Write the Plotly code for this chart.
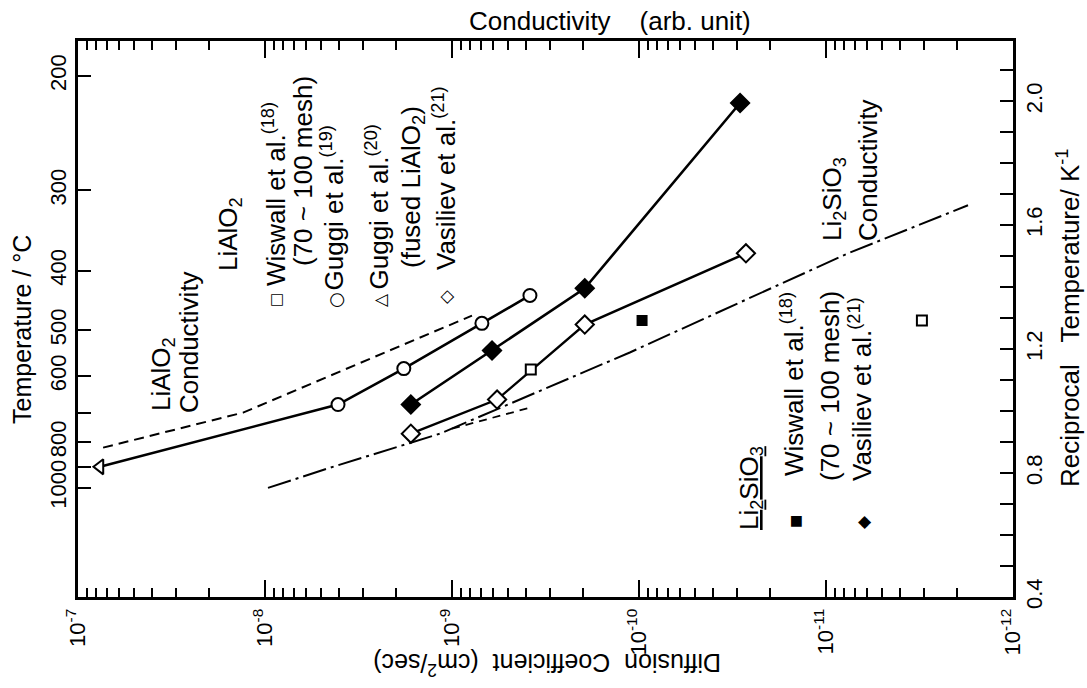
import plotly.graph_objects as go

# ---------------- data ----------------
# LiAlO2, Guggi et al.(19)  (open circles)
guggi_D = [4.07e-9, 1.81e-9, 6.92e-10, 3.83e-10]
guggi_r = [1.021, 1.137, 1.283, 1.373]
# LiAlO2 fused, Guggi et al.(20)  (open triangle)
guggi_fused_D = [7.63e-8]
guggi_fused_r = [0.820]
# LiAlO2, Vasiliev et al.(21)  (open diamonds)
vas_lialo2_D = [1.66e-9, 5.74e-10, 1.95e-10, 2.68e-11]
vas_lialo2_r = [0.927, 1.037, 1.279, 1.509]
# Li2SiO3, Vasiliev et al.(21)  (filled diamonds)
vas_li2sio3_D = [1.66e-9, 6.11e-10, 1.95e-10, 2.88e-11]
vas_li2sio3_r = [1.021, 1.195, 1.396, 1.994]
# LiAlO2, Wiswall et al.(18)  (open squares)
wis_lialo2_D = [3.79e-10, 3.07e-12]
wis_lialo2_r = [1.134, 1.292]
# Li2SiO3, Wiswall et al.(18)  (filled square)
wis_li2sio3_D = [9.63e-11]
wis_li2sio3_r = [1.292]
# LiAlO2 conductivity (dashed)
cond_lialo2_D = [7.34e-8, 1.31e-8, 7.82e-10]
cond_lialo2_r = [0.882, 0.995, 1.308]
# Li2SiO3 conductivity (dash-dot)
cond_li2sio3_D = [9.64e-9, 4.49e-9, 1.16e-9, 3.83e-10, 1.12e-10, 7.62e-12, 1.74e-12]
cond_li2sio3_r = [0.752, 0.817, 0.927, 1.050, 1.189, 1.509, 1.664]
# short dashed extrapolation
extrap_D = [1.0e-9, 3.83e-10]
extrap_r = [0.943, 1.011]

# ticks
d_decades = [1e-7, 1e-8, 1e-9, 1e-10, 1e-11, 1e-12]
d_labels = ["10<sup>-7</sup>", "10<sup>-8</sup>", "10<sup>-9</sup>",
            "10<sup>-10</sup>", "10<sup>-11</sup>", "10<sup>-12</sup>"]
recip_ticks = [0.4, 0.5, 0.6, 0.7, 0.8, 0.9, 1.0, 1.1, 1.2, 1.3, 1.4, 1.5,
               1.6, 1.7, 1.8, 1.9, 2.0, 2.1]
recip_labels = ["0.4", "", "", "", "0.8", "", "", "", "1.2", "", "", "",
                "1.6", "", "", "", "2.0", ""]
temp_C = [200, 300, 400, 500, 600, 700, 800, 900, 1000]
temp_labels = ["200", "300", "400", "500", "600", "", "800", "", "1000"]

# ---------------- figure ----------------
FONT = "Liberation Sans, Arial, sans-serif"
SYMFONT = "DejaVu Sans, sans-serif"
W, H = 1087, 688
L, R, T, B = 78, 74, 41, 91
PW, PH = W - L - R, H - T - B

minor_vals = [k * 10.0 ** e for e in range(-12, -7) for k in range(2, 10)]
temp_recip = [1000.0 / (c + 273.15) for c in temp_C]

fig = go.Figure()

line_traces = [
    (guggi_fused_D + guggi_D, guggi_fused_r + guggi_r, "solid", 2.6),
    (vas_lialo2_D, vas_lialo2_r, "solid", 2.4),
    (vas_li2sio3_D, vas_li2sio3_r, "solid", 2.6),
    (cond_lialo2_D, cond_lialo2_r, "10px,6px", 2.0),
    (cond_li2sio3_D, cond_li2sio3_r, "24px,5px,3px,5px", 2.0),
    (extrap_D, extrap_r, "8px,6px", 1.8),
]
for xs, ys, dash, w in line_traces:
    fig.add_trace(go.Scatter(x=xs, y=ys, mode="lines",
                             line=dict(color="black", width=w, dash=dash),
                             showlegend=False, hoverinfo="skip"))

marker_traces = [
    (guggi_D, guggi_r, "circle", 13, "white"),
    (guggi_fused_D, guggi_fused_r, "triangle-left", 13, "white"),
    (vas_lialo2_D, vas_lialo2_r, "diamond", 14, "white"),
    (vas_li2sio3_D, vas_li2sio3_r, "diamond", 14, "black"),
    (wis_lialo2_D, wis_lialo2_r, "square", 10, "white"),
    (wis_li2sio3_D, wis_li2sio3_r, "square", 9, "black"),
]
for xs, ys, sym, size, fill in marker_traces:
    fig.add_trace(go.Scatter(x=xs, y=ys, mode="markers",
                             marker=dict(symbol=sym, size=size, color=fill,
                                         line=dict(color="black", width=2)),
                             showlegend=False, hoverinfo="skip"))

# invisible helper trace on its own (x2, y2) pair: it carries the
# temperature axis (left) and the bottom tick marks
fig.add_trace(go.Scatter(x=[guggi_fused_D[0]], y=[temp_recip[0]],
                         xaxis="x2", yaxis="y2",
                         mode="markers", marker=dict(opacity=0, size=1),
                         showlegend=False, hoverinfo="skip"))


def ann(text, xp, yp, angle=-90, size=26, xanchor="center", yanchor="bottom",
        family=FONT):
    return dict(text=text, x=(xp - L) / PW, y=(H - B - yp) / PH,
                xref="paper", yref="paper", showarrow=False, textangle=angle,
                xanchor=xanchor, yanchor=yanchor,
                font=dict(size=size, family=family, color="black"))


NB = "\u00a0"
annotations = [
    # axis titles
    ann("Conductivity" + NB * 4 + "(arb. unit)", 610, 21, angle=0, size=26, yanchor="middle"),
    ann("Temperature / °C", 22, 330, size=25, yanchor="middle"),
    ann("Reciprocal" + NB * 3 + "Temperature/ K<sup>-1</sup>", 1068, 318, size=26, yanchor="middle"),
    ann("Diffusion" + NB * 2 + "Coefficient" + NB * 2 + "(cm<sup>2</sup>/sec)", 547, 664,
        angle=180, size=25, yanchor="middle"),
    # conductivity labels
    ann("LiAlO<sub>2</sub>", 162, 413),
    ann("Conductivity", 189, 415),
    ann("Li<sub>2</sub>SiO<sub>3</sub>", 834, 243),
    ann("Conductivity", 868, 243),
    # LiAlO2 legend
    ann("LiAlO<sub>2</sub>", 229, 273),
    ann("Wiswall et al.<sup>(18)</sup>", 274, 288),
    ann("(70 ~ 100 mesh)", 303, 268),
    ann("Guggi et al.<sup>(19)</sup>", 333, 293),
    ann("Guggi et al.<sup>(20)</sup>", 378, 292),
    ann("(fused LiAlO<sub>2</sub>)", 412, 270),
    ann("Vasiliev et al.<sup>(21)</sup>", 444, 272),
    # Li2SiO3 legend
    ann("<u>Li<sub>2</sub>SiO<sub>3</sub></u>", 750, 532),
    ann("Wiswall et al.<sup>(18)</sup>", 792, 478),
    ann("(70 ~ 100 mesh)", 830, 483),
    ann("Vasiliev et al.<sup>(21)</sup>", 861, 483),
    # legend symbols
    ann("□", 276, 300, size=15, yanchor="middle", family=SYMFONT),
    ann("○", 335, 300, size=18, yanchor="middle", family=SYMFONT),
    ann("△", 380, 300, size=17, yanchor="middle", family=SYMFONT),
    ann("◇", 445, 297, size=18, yanchor="middle", family=SYMFONT),
    ann("■", 795, 522, size=14, yanchor="middle", family=SYMFONT),
    ann("◆", 863, 522, size=17, yanchor="middle", family=SYMFONT),
]

tick_common = dict(showline=True, linecolor="black", linewidth=3,
                   ticks="inside", tickwidth=2, tickcolor="black",
                   showgrid=False, zeroline=False, layer="above traces",
                   tickfont=dict(size=22, family=FONT, color="black"))
minor_cfg = dict(ticks="inside", ticklen=9, tickwidth=2, tickcolor="black",
                 tickvals=minor_vals, showgrid=False)

fig.update_layout(
    template="none",
    width=W, height=H,
    margin=dict(l=L, r=R, t=T, b=B, pad=0),
    paper_bgcolor="white", plot_bgcolor="rgba(0,0,0,0)",
    font=dict(family=FONT, color="black"),
    showlegend=False,
    annotations=annotations,
    xaxis=dict(
        type="log", range=[-7, -12], autorange=False, mirror="allticks",
        ticklen=17, tickvals=d_decades, ticktext=d_labels, tickangle=-90,
        minor=minor_cfg,
        **tick_common,
    ),
    xaxis2=dict(
        type="log", range=[-7, -12], autorange=False, overlaying="x",
        side="bottom", anchor="y2", mirror="allticks",
        showline=False, showgrid=False, zeroline=False,
        ticks="inside", ticklen=17, tickwidth=2, tickcolor="black",
        tickvals=d_decades, showticklabels=False,
        minor=minor_cfg,
    ),
    yaxis=dict(
        range=[0.4, 2.194], autorange=False, side="right", ticklen=13,
        tickvals=recip_ticks, ticktext=recip_labels, tickangle=-90,
        **tick_common,
    ),
    yaxis2=dict(
        overlaying="y", side="left", anchor="x2",
        range=[0.4325, 2.2265], autorange=False, ticklen=13,
        tickvals=temp_recip, ticktext=temp_labels, tickangle=-90,
        **tick_common,
    ),
)

fig.write_html("out.html")
